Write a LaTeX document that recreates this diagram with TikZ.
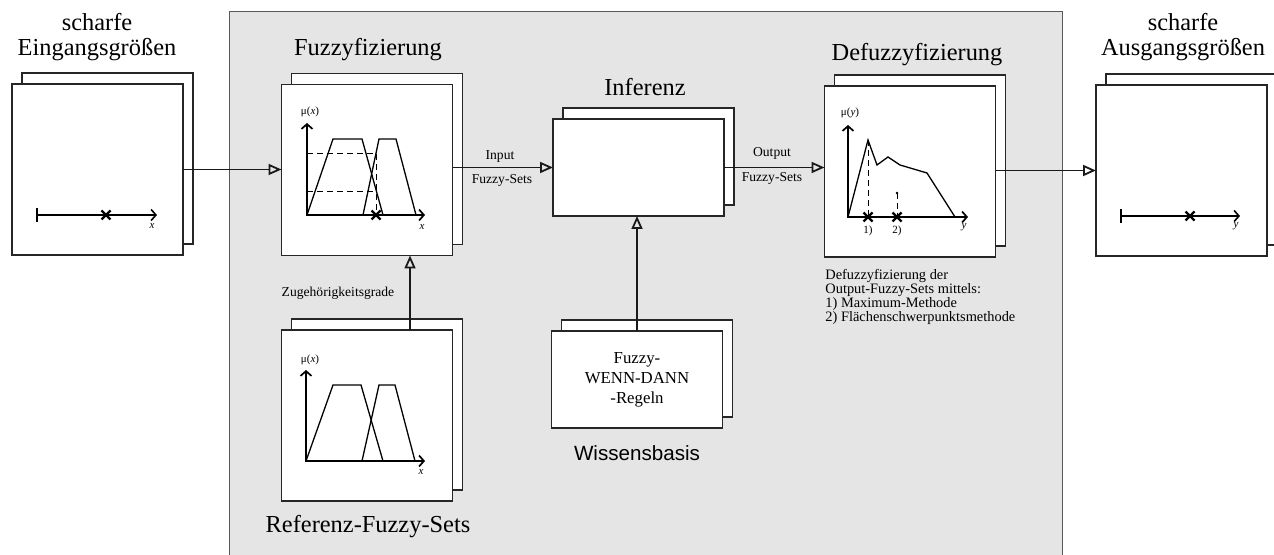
\documentclass[tikz,border=0pt]{standalone}
\usepackage{fontspec}
\setmainfont{Liberation Serif}
\newfontfamily\arialfont{Liberation Sans}
\usetikzlibrary{arrows.meta,calc}
\tikzset{
  panelbox/.style={draw=black!65, line width=0.5pt, fill=black!10},
  frontbox/.style={draw=black!85, line width=0.6pt, fill=white, inner sep=0pt, outer sep=0pt},
  sq/.style={minimum width=85.5pt, minimum height=85.5pt},
  rc/.style={minimum width=85.5pt, minimum height=48.5pt},
  conn/.style={draw=black!90, line width=0.6pt, -{Triangle[open,length=6.5pt,width=5.5pt,line width=0.9pt]}},
  axes/.style={line width=0.85pt, {Straight Barb[length=2.4pt,width=5.5pt]}-{Straight Barb[length=2.4pt,width=5.5pt]}},
  haxis/.style={line width=0.6pt, -{Straight Barb[length=2.4pt,width=5.5pt,line width=0.8pt]}},
  fcurve/.style={line width=0.65pt},
  dsh/.style={line width=0.45pt, densely dashed},
  title/.style={font=\fontsize{12.2}{12.5}\selectfont, align=center, inner sep=0pt},
  small/.style={font=\fontsize{6.8}{7}\selectfont, inner sep=0pt},
  tiny/.style={font=\fontsize{5.5}{6}\selectfont, inner sep=0pt},
  xcross/.pic={\draw[line width=1.1pt] (-4.5,-4.5) -- (4.5,4.5) (-4.5,4.5) -- (4.5,-4.5);}
}
\begin{document}
\begin{tikzpicture}[x=0.5pt,y=-0.5pt]
\useasboundingbox (0,0) rectangle (1274,555);
\clip (0,0) rectangle (1274,555);
% grey panel
\draw[panelbox] (229,12) rectangle (1062,570);

% back boxes
\node[frontbox,sq] (inB)  at (107.5,158.5) {};
\node[frontbox,sq] (fuzB) at (377,159) {};
\node[frontbox,sq] (refB) at (377,404.5) {};
\node[frontbox,rc] (infB) at (648.5,156.5) {};
\node[frontbox,rc] (regB) at (647,368.5) {};
\node[frontbox,sq] (defB) at (920,160.5) {};
\node[frontbox,sq] (outB) at (1191.5,159.5) {};

% front boxes
\node[frontbox,sq] (in)  at (97.5,169.5) {};
\node[frontbox,sq] (fuz) at (367,170) {};
\node[frontbox,sq] (ref) at (367,415.5) {};
\node[frontbox,rc] (inf) at (638.5,167.5) {};
\node[frontbox,rc,align=center,font=\fontsize{8.4}{10}\selectfont] (reg) at (637,379.5) {Fuzzy-\\WENN-DANN\\-Regeln};
\node[frontbox,sq] (def) at (910,171.5) {};
\node[frontbox,sq] (out) at (1181.5,170.5) {};

% titles
\node[title] (tin)  at (97,37) {scharfe\\Eingangsgrößen};
\node[title] (tout) at (1183,37) {scharfe\\Ausgangsgrößen};
\node[title] (tfuz) at (368,50) {Fuzzyfizierung};
\node[title] (tinf) at (645,87) {Inferenz};
\node[title] (tdef) at (917,55) {Defuzzyfizierung};
\node[title] (tref) at (368,527) {Referenz-Fuzzy-Sets};
\node[inner sep=0pt,font=\arialfont\fontsize{10.3}{11}\selectfont] (twis) at (637,453) {Wissensbasis};

% connectors
\coordinate (zx) at (410,0);
\draw[conn] (in.east) -- (in.east -| fuz.west);
\draw[conn] (fuz.east |- inf.west) -- (inf.west);
\draw[conn] (inf.east) -- (inf.east -| def.west);
\draw[conn] (def.east |- out.west) -- (out.west);
\draw[conn] (ref.north -| zx) -- (fuz.south -| zx);
\draw[conn] (reg.north) -- (reg.north |- inf.south);

% connector labels
\node[small] (lin1) at (500,156) {Input};
\node[small] (lin2) at (502,180) {Fuzzy-Sets};
\node[small] (lout1) at (772,153) {Output};
\node[small] (lout2) at (772,178) {Fuzzy-Sets};
\node[small] (lzug) at (338,293) {Zugehörigkeitsgrade};
\node[inner sep=0pt, anchor=west, align=left, font=\fontsize{7.2}{7}\selectfont] (ldesc) at (825,297)
  {Defuzzyfizierung der\\Output-Fuzzy-Sets mittels:\\1) Maximum-Methode\\2) Flächenschwerpunktsmethode};

% input box content
\draw[line width=0.9pt] (37,208) -- (37,222);
\draw[haxis] (37,215) -- (157,215);
\pic at (106,215) {xcross};
\node[tiny,font=\fontsize{5.5}{6}\selectfont\itshape] (inx) at (152,226) {x};

% output box content
\draw[line width=0.9pt] (1121,209) -- (1121,223);
\draw[haxis] (1121,216) -- (1240,216);
\pic at (1190,216) {xcross};
\node[tiny,font=\fontsize{5.5}{6}\selectfont\itshape] (outy) at (1236,226) {y};

% fuzzyfication plot
\draw[axes] (307,123) -- (307,215) -- (425,215);
\draw[fcurve] (307,215) -- (333,139) -- (362,139) -- (383,215);
\draw[fcurve] (363,215) -- (379,139) -- (396,139) -- (416,215);
\draw[dsh] (307,153) -- (376,153) -- (376,215);
\draw[dsh] (307,191) -- (376,191);
\pic at (376,215) {xcross};
\node[tiny] (fmu) at (310,112) {μ(\textit{x})};
\node[tiny,font=\fontsize{5.5}{6}\selectfont\itshape] (fx) at (422,227) {x};

% reference plot
\draw[axes] (306,370) -- (306,461) -- (425,461);
\draw[fcurve] (306,461) -- (333,385) -- (361,385) -- (383,461);
\draw[fcurve] (362,461) -- (379,385) -- (395,385) -- (415,461);
\node[tiny] (rmu) at (310,360) {μ(\textit{x})};
\node[tiny,font=\fontsize{5.5}{6}\selectfont\itshape] (rx) at (421,472) {x};

% defuzzification plot
\draw[axes] (848,125) -- (848,217) -- (968,217);
\draw[fcurve] (848,217) -- (868,140) -- (877,165) -- (888,157) -- (900,165) -- (927,173) -- (955,217);
\draw[dsh] (868,140) -- (868,217);
\draw[dsh] (897,193) -- (897,217);
\fill (897,193) circle (1.3);
\pic at (868,217) {xcross};
\pic at (897,217) {xcross};
\node[tiny] (d1) at (868,231) {1)};
\node[tiny] (d2) at (897,231) {2)};
\node[tiny] (dmu) at (850,113) {μ(\textit{y})};
\node[tiny,font=\fontsize{5.5}{6}\selectfont\itshape] (dy) at (964,227) {y};
\end{tikzpicture}
\end{document}
